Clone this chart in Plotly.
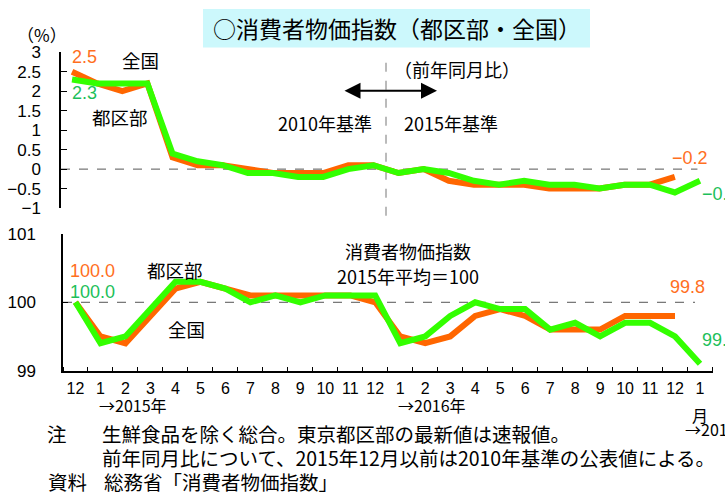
import plotly.graph_objects as go

W, H = 725, 495

# ---- data ----
months = ["12", "1", "2", "3", "4", "5", "6", "7", "8", "9", "10", "11", "12",
          "1", "2", "3", "4", "5", "6", "7", "8", "9", "10", "11", "12", "1"]
# year-on-year change (%)
yoy_zenkoku = [2.5, 2.2, 2.0, 2.2, 0.3, 0.1, 0.1, 0.0, -0.1, -0.1, -0.1, 0.1, 0.1,
               -0.1, 0.0, -0.3, -0.4, -0.4, -0.4, -0.5, -0.5, -0.5, -0.4, -0.4, -0.2]
yoy_kubu = [2.3, 2.2, 2.2, 2.2, 0.4, 0.2, 0.1, -0.1, -0.1, -0.2, -0.2, 0.0, 0.1,
            -0.1, 0.0, -0.1, -0.3, -0.4, -0.3, -0.4, -0.4, -0.5, -0.4, -0.4, -0.6, -0.3]
# index (2015 average = 100)
idx_zenkoku = [100.0, 99.5, 99.4, 99.8, 100.2, 100.3, 100.2, 100.1, 100.1, 100.1, 100.1, 100.1, 100.0,
               99.5, 99.4, 99.5, 99.8, 99.9, 99.8, 99.6, 99.6, 99.6, 99.8, 99.8, 99.8]
idx_kubu = [100.0, 99.4, 99.5, 99.9, 100.3, 100.3, 100.2, 100.0, 100.1, 100.0, 100.1, 100.1, 100.1,
            99.4, 99.5, 99.8, 100.0, 99.9, 99.9, 99.6, 99.7, 99.5, 99.7, 99.7, 99.5, 99.1]
yoy_ticks = [3, 2.5, 2, 1.5, 1, 0.5, 0, -0.5, -1]
yoy_ticktext = ["3", "2.5", "2", "1.5", "1", "0.5", "0", "\u22120.5", "\u22121"]
idx_ticks = [99, 100, 101]

ORANGE = "#FF6600"
GREEN = "#33FF00"
ORANGE_T = "#FF6F1E"
GREEN_T = "#1DBF5A"
NUM = "Liberation Sans Narrow, Liberation Sans, Noto Sans CJK JP, sans-serif"
CJK = "Noto Sans CJK JP, sans-serif"


def px(x):
    return x / W


def py(y):
    return 1 - y / H


xi = list(range(len(months)))

fig = go.Figure()
# upper panel (x2/y2)
fig.add_trace(go.Scatter(x=xi[:len(yoy_zenkoku)], y=yoy_zenkoku, mode="lines",
                         line=dict(color=ORANGE, width=6), xaxis="x2", yaxis="y2",
                         name="全国"))
fig.add_trace(go.Scatter(x=xi[:len(yoy_kubu)], y=yoy_kubu, mode="lines",
                         line=dict(color=GREEN, width=6), xaxis="x2", yaxis="y2",
                         name="都区部"))
# lower panel (x/y)
fig.add_trace(go.Scatter(x=xi[:len(idx_zenkoku)], y=idx_zenkoku, mode="lines",
                         line=dict(color=ORANGE, width=6), xaxis="x", yaxis="y",
                         name="全国"))
fig.add_trace(go.Scatter(x=xi[:len(idx_kubu)], y=idx_kubu, mode="lines",
                         line=dict(color=GREEN, width=6), xaxis="x", yaxis="y",
                         name="都区部"))

fig.update_layout(
    width=W, height=H,
    margin=dict(l=0, r=0, t=0, b=0),
    paper_bgcolor="white", plot_bgcolor="rgba(0,0,0,0)",
    showlegend=False,
    font=dict(family=NUM, size=15, color="black"),
    xaxis=dict(domain=[px(63), px(712.5)], range=[-0.5, 25.5], anchor="y",
               tickmode="array", tickvals=xi, ticktext=months,
               ticks="", showline=True, linecolor="black", linewidth=1.5,
               showgrid=False, zeroline=False, ticklabelstandoff=2,
               tickfont=dict(family=NUM, size=16),
               minor=dict(ticks="inside", ticklen=4, tick0=0.5, dtick=1,
                          tickcolor="black", tickwidth=1, showgrid=False)),
    yaxis=dict(domain=[py(376), py(234)], range=[99, 101], anchor="x",
               tickmode="array", tickvals=idx_ticks, ticks="inside", ticklen=5,
               tickcolor="black", showline=True, linecolor="black", linewidth=1.5,
               showgrid=False, zeroline=False, ticklabelstandoff=22,
               tickfont=dict(family=NUM, size=17)),
    xaxis2=dict(domain=[px(61), px(712)], range=[-0.44, 25.48], anchor="y2",
                visible=False, showgrid=False, zeroline=False),
    yaxis2=dict(domain=[py(207), py(45)], range=[-1, 3], anchor="x2",
                tickmode="array", tickvals=yoy_ticks, ticktext=yoy_ticktext,
                ticks="inside", ticklen=6, tickcolor="black",
                showline=True, linecolor="black", linewidth=1.5,
                showgrid=False, zeroline=False, ticklabelstandoff=15,
                tickfont=dict(family=NUM, size=17)),
)

shapes = [
    # title box
    dict(type="rect", xref="paper", yref="paper", x0=px(203), x1=px(590),
         y0=py(40), y1=py(0), fillcolor="#CCF8FC", line=dict(width=0), layer="below"),
    # zero line upper
    dict(type="line", xref="x2", yref="y2", x0=-0.44, x1=24.9, y0=0, y1=0,
         line=dict(color="#555555", width=1, dash="dash"), layer="below"),
    # 100 line lower
    dict(type="line", xref="x", yref="y", x0=-0.5, x1=24.8, y0=100, y1=100,
         line=dict(color="#555555", width=1, dash="dash"), layer="below"),
    # base change divider
    dict(type="line", xref="x2", yref="paper", x0=12.5, x1=12.5, y0=py(215), y1=py(52),
         line=dict(color="#777777", width=1, dash="dash"), layer="below"),
]
fig.update_layout(shapes=shapes)


def ann(text, x, y, size=18, color="black", family=CJK, xanchor="center"):
    fig.add_annotation(text=text, x=px(x), y=py(y), xref="paper", yref="paper",
                       showarrow=False, xanchor=xanchor, yanchor="middle",
                       font=dict(size=size, color=color, family=family))


ann("○消費者物価指数（都区部・全国）", 397, 20, size=23)
ann("（%）", 42, 26, size=17)
ann("全国", 140, 53, size=18.5)
ann("都区部", 120, 112, size=18.5)
ann("2.5", 84, 50, size=18, color=ORANGE_T, family=NUM)
ann("2.3", 84, 87, size=18, color=GREEN_T, family=NUM)
ann("2010年基準", 325, 119, size=18)
ann("2015年基準", 451, 119, size=18)
ann("（前年同月比）", 457, 62, size=18)
ann("\u22120.2", 690, 155, size=18, color=ORANGE_T, family=NUM)
ann("\u22120.3", 700, 192, size=18, color=GREEN_T, family=NUM, xanchor="left")
# lower panel
ann("100.0", 92, 272, size=18, color=ORANGE_T, family=NUM)
ann("100.0", 92, 294, size=18, color=GREEN_T, family=NUM)
ann("都区部", 175, 271, size=18.5)
ann("全国", 186, 333, size=18.5)
ann("消費者物価指数", 408, 252, size=18)
ann("2015年平均＝100", 408, 278, size=18)
ann("99.8", 687, 289, size=18, color=ORANGE_T, family=NUM)
ann("99.1", 700, 344, size=18, color=GREEN_T, family=NUM, xanchor="left")
# axis extras
ann("→2015年", 133, 412, size=16)
ann("→2016年", 432, 412, size=16)
ann("月", 700, 422, size=16)
ann("→2017年", 683, 437, size=16, xanchor="left")
# notes
ann("注", 57, 441, size=19.5)
ann("生鮮食品を除く総合。東京都区部の最新値は速報値。", 100, 441, size=19.5, xanchor="left")
ann("前年同月比について、2015年12月以前は2010年基準の公表値による。", 100, 466, size=19.5,
    xanchor="left")
ann("資料", 67, 491, size=19.5)
ann("総務省「消費者物価指数」", 102, 491, size=19.5, xanchor="left")

# double arrow
fig.add_annotation(x=px(437), y=py(85), xref="paper", yref="paper", text="",
                   showarrow=True, ax=-94, ay=0, arrowhead=2, arrowside="end+start",
                   arrowsize=1.6, arrowwidth=2, arrowcolor="black",
                   startarrowhead=2, startarrowsize=1.6)

fig.write_html("out.html", config={"displayModeBar": False},
               post_script="document.body.style.margin='0';document.body.style.overflow='hidden';")
